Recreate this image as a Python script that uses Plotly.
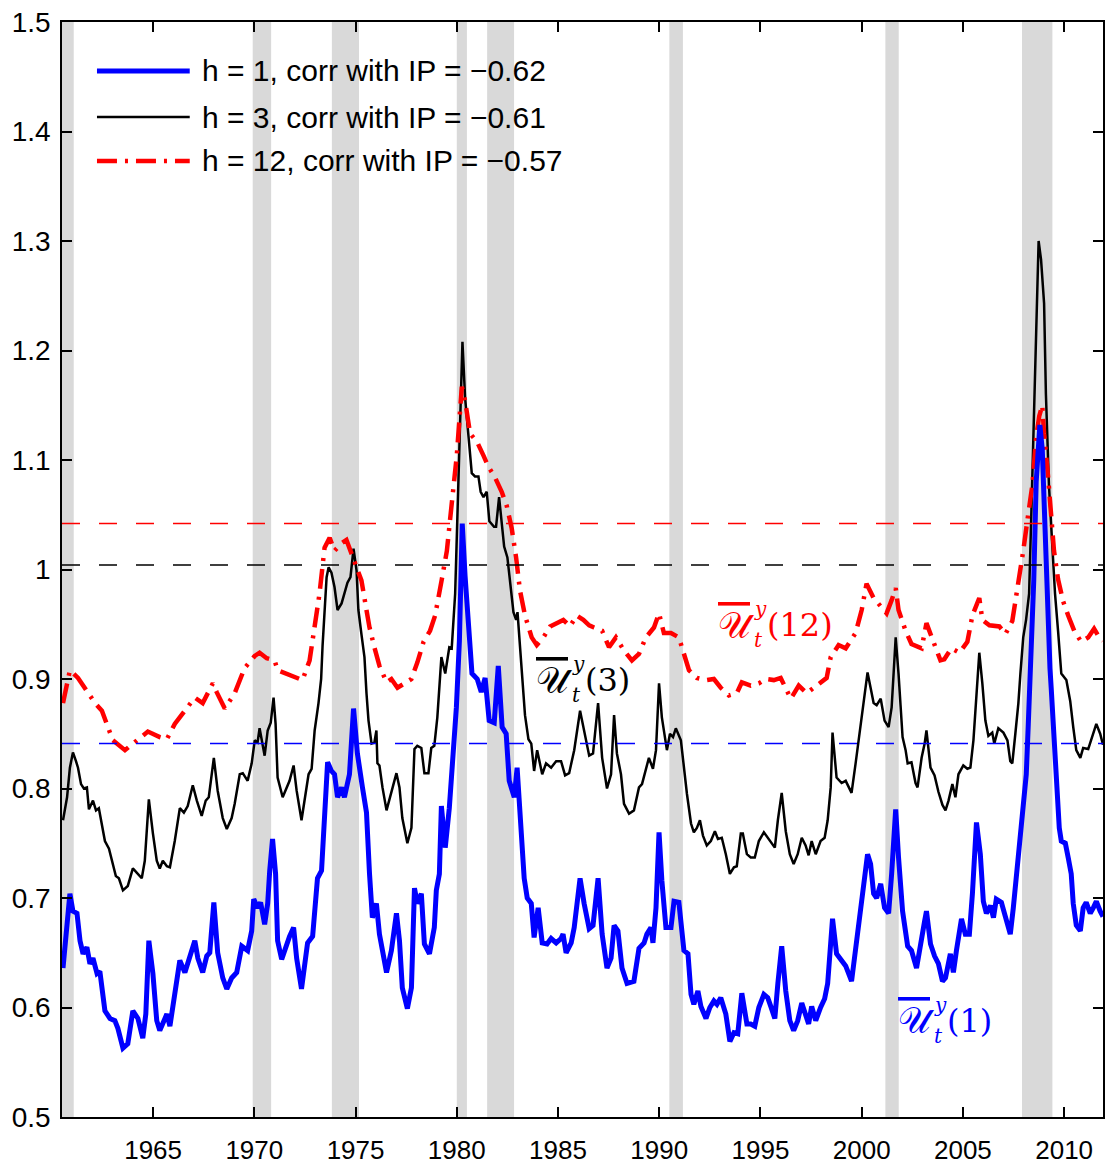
import plotly.graph_objects as go

# ---------------------------------------------------------------- data
# NBER recession periods (peak, trough) in decimal years
rec_start = [1960.25, 1969.92, 1973.83, 1980.00, 1981.50, 1990.50, 2001.17, 2007.92]
rec_end = [1961.08, 1970.83, 1975.17, 1980.50, 1982.83, 1991.17, 2001.83, 2009.42]

# h = 1 uncertainty index
t_h1 = [1960.55, 1960.89, 1961.04, 1961.24, 1961.39, 1961.54, 1961.73, 1961.88, 1962.03, 1962.23,
        1962.37, 1962.62, 1962.87, 1963.11, 1963.26, 1963.51, 1963.75, 1964.00, 1964.25, 1964.49,
        1964.64, 1964.79, 1964.99, 1965.18, 1965.33, 1965.48, 1965.68, 1965.83, 1966.07, 1966.32,
        1966.57, 1966.81, 1967.06, 1967.21, 1967.45, 1967.65, 1967.80, 1968.00, 1968.19, 1968.44,
        1968.64, 1968.88, 1969.13, 1969.38, 1969.67, 1969.87, 1969.97, 1970.16, 1970.31, 1970.51,
        1970.66, 1970.76, 1970.90, 1971.05, 1971.15, 1971.35, 1971.59, 1971.74, 1971.94, 1972.09,
        1972.33, 1972.48, 1972.63, 1972.88, 1973.12, 1973.32, 1973.47, 1973.62, 1973.81, 1973.96,
        1974.11, 1974.31, 1974.45, 1974.70, 1974.90, 1975.09, 1975.34, 1975.54, 1975.69, 1975.83,
        1976.03, 1976.18, 1976.33, 1976.53, 1976.77, 1977.02, 1977.17, 1977.31, 1977.56, 1977.76,
        1977.91, 1978.05, 1978.25, 1978.40, 1978.65, 1978.89, 1978.99, 1979.14, 1979.24, 1979.43,
        1979.63, 1979.78, 1979.98, 1980.13, 1980.27, 1980.41, 1980.55, 1980.75, 1981.01, 1981.21,
        1981.40, 1981.60, 1981.85, 1982.05, 1982.24, 1982.44, 1982.59, 1982.84, 1982.98, 1983.18,
        1983.33, 1983.48, 1983.68, 1983.82, 1984.02, 1984.22, 1984.46, 1984.66, 1984.91, 1985.15,
        1985.25, 1985.40, 1985.65, 1985.80, 1986.09, 1986.29, 1986.54, 1986.73, 1986.98, 1987.18,
        1987.42, 1987.62, 1987.77, 1987.96, 1988.16, 1988.41, 1988.75, 1989.00, 1989.25, 1989.39,
        1989.59, 1989.69, 1989.84, 1989.99, 1990.13, 1990.33, 1990.58, 1990.73, 1990.97, 1991.22,
        1991.42, 1991.57, 1991.71, 1991.91, 1992.06, 1992.31, 1992.50, 1992.70, 1992.85, 1993.04,
        1993.29, 1993.49, 1993.69, 1993.88, 1994.08, 1994.33, 1994.52, 1994.72, 1994.92, 1995.17,
        1995.36, 1995.51, 1995.71, 1995.86, 1996.05, 1996.25, 1996.45, 1996.64, 1996.84, 1997.04,
        1997.23, 1997.38, 1997.53, 1997.73, 1997.97, 1998.17, 1998.32, 1998.47, 1998.56, 1998.76,
        1999.01, 1999.21, 1999.50, 1999.70, 1999.95, 2000.14, 2000.29, 2000.44, 2000.59, 2000.74,
        2000.94, 2001.13, 2001.33, 2001.48, 2001.68, 2001.82, 2002.02, 2002.27, 2002.46, 2002.71,
        2002.96, 2003.11, 2003.20, 2003.40, 2003.60, 2003.79, 2003.99, 2004.14, 2004.38, 2004.53,
        2004.68, 2004.93, 2005.12, 2005.32, 2005.47, 2005.67, 2005.86, 2006.01, 2006.16, 2006.36,
        2006.51, 2006.65, 2006.90, 2007.10, 2007.34, 2007.49, 2007.64, 2007.84, 2007.99, 2008.13,
        2008.23, 2008.38, 2008.50, 2008.62, 2008.72, 2008.80, 2008.92, 2009.05, 2009.17, 2009.30,
        2009.37, 2009.51, 2009.61, 2009.76, 2009.86, 2010.06, 2010.20, 2010.35, 2010.45, 2010.60,
        2010.80, 2010.94, 2011.09, 2011.29, 2011.44, 2011.59, 2011.78, 2011.92]
u_h1 = [0.636, 0.704, 0.688, 0.686, 0.661, 0.649, 0.655, 0.640, 0.645, 0.631,
        0.633, 0.597, 0.590, 0.588, 0.581, 0.563, 0.567, 0.597, 0.590, 0.572,
        0.594, 0.661, 0.631, 0.588, 0.579, 0.585, 0.594, 0.583, 0.612, 0.643,
        0.632, 0.647, 0.661, 0.645, 0.632, 0.647, 0.650, 0.696, 0.650, 0.627,
        0.617, 0.627, 0.632, 0.656, 0.652, 0.670, 0.699, 0.691, 0.696, 0.676,
        0.695, 0.725, 0.754, 0.722, 0.661, 0.644, 0.659, 0.665, 0.673, 0.645,
        0.617, 0.636, 0.659, 0.665, 0.718, 0.725, 0.780, 0.824, 0.816, 0.813,
        0.792, 0.801, 0.792, 0.813, 0.873, 0.832, 0.801, 0.778, 0.722, 0.682,
        0.695, 0.667, 0.652, 0.632, 0.652, 0.686, 0.661, 0.618, 0.599, 0.618,
        0.709, 0.695, 0.704, 0.658, 0.649, 0.673, 0.707, 0.722, 0.784, 0.746,
        0.782, 0.823, 0.874, 0.935, 1.042, 0.994, 0.955, 0.905, 0.900, 0.888,
        0.901, 0.862, 0.860, 0.912, 0.856, 0.850, 0.807, 0.792, 0.819, 0.759,
        0.718, 0.700, 0.695, 0.664, 0.691, 0.659, 0.658, 0.663, 0.659, 0.663,
        0.667, 0.650, 0.659, 0.673, 0.718, 0.695, 0.672, 0.675, 0.718, 0.667,
        0.636, 0.645, 0.675, 0.670, 0.636, 0.622, 0.624, 0.654, 0.659, 0.667,
        0.673, 0.659, 0.691, 0.760, 0.716, 0.673, 0.673, 0.697, 0.696, 0.652,
        0.649, 0.612, 0.603, 0.615, 0.601, 0.590, 0.600, 0.606, 0.603, 0.609,
        0.594, 0.569, 0.577, 0.576, 0.613, 0.585, 0.585, 0.583, 0.600, 0.612,
        0.609, 0.601, 0.590, 0.622, 0.656, 0.615, 0.588, 0.579, 0.588, 0.604,
        0.594, 0.585, 0.601, 0.588, 0.600, 0.608, 0.622, 0.652, 0.681, 0.649,
        0.643, 0.638, 0.624, 0.652, 0.695, 0.716, 0.740, 0.731, 0.704, 0.700,
        0.713, 0.691, 0.686, 0.722, 0.781, 0.737, 0.688, 0.656, 0.652, 0.636,
        0.667, 0.679, 0.688, 0.658, 0.647, 0.640, 0.624, 0.627, 0.649, 0.632,
        0.652, 0.681, 0.667, 0.667, 0.704, 0.769, 0.740, 0.697, 0.686, 0.693,
        0.682, 0.699, 0.696, 0.682, 0.667, 0.691, 0.718, 0.752, 0.789, 0.813,
        0.859, 0.920, 0.990, 1.080, 1.120, 1.132, 1.110, 1.040, 0.960, 0.910,
        0.889, 0.844, 0.798, 0.764, 0.752, 0.750, 0.737, 0.722, 0.695, 0.675,
        0.670, 0.691, 0.696, 0.686, 0.691, 0.697, 0.688, 0.683]

# h = 3 uncertainty index
t_h3 = [1960.55, 1960.75, 1960.89, 1961.04, 1961.19, 1961.29, 1961.44, 1961.58, 1961.73, 1961.83,
        1962.03, 1962.18, 1962.32, 1962.62, 1962.82, 1963.01, 1963.16, 1963.31, 1963.51, 1963.75,
        1964.00, 1964.20, 1964.44, 1964.59, 1964.79, 1964.99, 1965.18, 1965.33, 1965.48, 1965.68,
        1965.83, 1966.07, 1966.32, 1966.52, 1966.71, 1966.96, 1967.16, 1967.40, 1967.60, 1967.75,
        1968.00, 1968.19, 1968.44, 1968.64, 1968.88, 1969.03, 1969.28, 1969.43, 1969.67, 1969.87,
        1970.02, 1970.16, 1970.26, 1970.51, 1970.66, 1970.81, 1970.95, 1971.05, 1971.15, 1971.40,
        1971.59, 1971.74, 1971.94, 1972.09, 1972.33, 1972.53, 1972.68, 1972.83, 1972.98, 1973.17,
        1973.30, 1973.37, 1973.47, 1973.57, 1973.67, 1973.81, 1973.96, 1974.11, 1974.31, 1974.45,
        1974.60, 1974.75, 1974.90, 1975.05, 1975.14, 1975.29, 1975.44, 1975.54, 1975.64, 1975.79,
        1975.93, 1976.03, 1976.08, 1976.18, 1976.33, 1976.53, 1976.77, 1977.02, 1977.17, 1977.31,
        1977.56, 1977.76, 1977.91, 1978.05, 1978.25, 1978.40, 1978.60, 1978.74, 1978.89, 1979.04,
        1979.24, 1979.43, 1979.63, 1979.75, 1979.92, 1980.08, 1980.28, 1980.41, 1980.58, 1980.74,
        1980.90, 1981.07, 1981.18, 1981.32, 1981.48, 1981.61, 1981.84, 1981.94, 1982.09, 1982.22,
        1982.34, 1982.50, 1982.63, 1982.80, 1982.93, 1983.00, 1983.09, 1983.20, 1983.37, 1983.54,
        1983.68, 1983.82, 1983.97, 1984.22, 1984.41, 1984.66, 1984.91, 1985.15, 1985.35, 1985.55,
        1985.80, 1986.09, 1986.29, 1986.54, 1986.73, 1986.98, 1987.18, 1987.42, 1987.62, 1987.77,
        1987.91, 1988.11, 1988.26, 1988.51, 1988.75, 1989.00, 1989.15, 1989.34, 1989.49, 1989.69,
        1989.84, 1989.99, 1990.13, 1990.38, 1990.53, 1990.68, 1990.82, 1991.07, 1991.22, 1991.37,
        1991.57, 1991.71, 1991.86, 1992.01, 1992.16, 1992.35, 1992.55, 1992.75, 1992.90, 1993.09,
        1993.29, 1993.49, 1993.69, 1993.83, 1994.03, 1994.13, 1994.33, 1994.52, 1994.72, 1994.92,
        1995.17, 1995.36, 1995.51, 1995.71, 1995.86, 1996.05, 1996.25, 1996.45, 1996.64, 1996.84,
        1997.04, 1997.23, 1997.38, 1997.53, 1997.73, 1997.97, 1998.17, 1998.32, 1998.47, 1998.56,
        1998.76, 1999.01, 1999.21, 1999.50, 1999.70, 1999.95, 2000.09, 2000.29, 2000.44, 2000.59,
        2000.74, 2000.94, 2001.13, 2001.33, 2001.48, 2001.68, 2001.82, 2002.02, 2002.17, 2002.27,
        2002.46, 2002.66, 2002.76, 2002.96, 2003.11, 2003.20, 2003.40, 2003.60, 2003.79, 2003.99,
        2004.14, 2004.29, 2004.48, 2004.63, 2004.78, 2005.02, 2005.22, 2005.37, 2005.52, 2005.67,
        2005.81, 2005.96, 2006.11, 2006.26, 2006.45, 2006.55, 2006.75, 2007.00, 2007.20, 2007.34,
        2007.44, 2007.59, 2007.74, 2007.84, 2007.98, 2008.12, 2008.27, 2008.37, 2008.47, 2008.62,
        2008.74, 2008.86, 2009.01, 2009.10, 2009.25, 2009.40, 2009.55, 2009.70, 2009.86, 2010.11,
        2010.30, 2010.45, 2010.60, 2010.80, 2010.94, 2011.19, 2011.44, 2011.59, 2011.78, 2011.92]
u_h3 = [0.771, 0.792, 0.819, 0.833, 0.825, 0.819, 0.804, 0.800, 0.801, 0.781,
        0.789, 0.780, 0.782, 0.752, 0.745, 0.731, 0.720, 0.718, 0.707, 0.711,
        0.727, 0.723, 0.718, 0.734, 0.790, 0.759, 0.734, 0.727, 0.734, 0.729,
        0.728, 0.752, 0.782, 0.778, 0.784, 0.803, 0.789, 0.775, 0.789, 0.792,
        0.828, 0.798, 0.773, 0.763, 0.773, 0.786, 0.813, 0.814, 0.807, 0.823,
        0.844, 0.842, 0.855, 0.830, 0.853, 0.860, 0.883, 0.859, 0.810, 0.792,
        0.801, 0.807, 0.821, 0.798, 0.771, 0.795, 0.813, 0.818, 0.853, 0.878,
        0.900, 0.930, 0.960, 0.993, 1.002, 0.997, 0.984, 0.963, 0.969, 0.978,
        0.988, 0.993, 1.019, 0.999, 0.963, 0.941, 0.920, 0.887, 0.862, 0.841,
        0.842, 0.853, 0.823, 0.821, 0.801, 0.780, 0.798, 0.814, 0.801, 0.773,
        0.750, 0.764, 0.836, 0.839, 0.837, 0.814, 0.814, 0.837, 0.839, 0.865,
        0.920, 0.905, 0.929, 0.928, 0.978, 1.077, 1.208, 1.157, 1.124, 1.088,
        1.085, 1.085, 1.071, 1.066, 1.071, 1.044, 1.039, 1.039, 1.066, 1.041,
        1.021, 1.011, 0.991, 0.961, 0.954, 0.961, 0.938, 0.911, 0.867, 0.845,
        0.841, 0.816, 0.835, 0.813, 0.823, 0.819, 0.825, 0.825, 0.812, 0.814,
        0.835, 0.871, 0.852, 0.830, 0.832, 0.878, 0.828, 0.800, 0.813, 0.867,
        0.832, 0.813, 0.786, 0.777, 0.780, 0.801, 0.804, 0.819, 0.828, 0.818,
        0.835, 0.896, 0.865, 0.835, 0.850, 0.847, 0.855, 0.844, 0.816, 0.795,
        0.768, 0.760, 0.764, 0.771, 0.757, 0.748, 0.752, 0.761, 0.754, 0.755,
        0.740, 0.722, 0.728, 0.729, 0.759, 0.759, 0.740, 0.737, 0.737, 0.752,
        0.760, 0.755, 0.752, 0.746, 0.771, 0.796, 0.761, 0.740, 0.731, 0.740,
        0.755, 0.748, 0.739, 0.752, 0.740, 0.752, 0.755, 0.771, 0.801, 0.851,
        0.810, 0.805, 0.807, 0.796, 0.823, 0.859, 0.880, 0.906, 0.892, 0.878,
        0.876, 0.882, 0.862, 0.856, 0.874, 0.938, 0.905, 0.847, 0.835, 0.823,
        0.824, 0.805, 0.801, 0.828, 0.841, 0.853, 0.819, 0.812, 0.797, 0.785,
        0.780, 0.789, 0.804, 0.792, 0.813, 0.821, 0.818, 0.819, 0.844, 0.889,
        0.924, 0.896, 0.862, 0.848, 0.851, 0.841, 0.855, 0.851, 0.844, 0.825,
        0.823, 0.850, 0.878, 0.905, 0.938, 0.954, 0.978, 1.044, 1.111, 1.210,
        1.300, 1.283, 1.243, 1.160, 1.077, 1.027, 0.978, 0.944, 0.905, 0.899,
        0.880, 0.856, 0.835, 0.828, 0.837, 0.836, 0.850, 0.859, 0.850, 0.840]

# h = 12 uncertainty index
t_h12 = [1960.55, 1960.89, 1961.29, 1961.78, 1962.13, 1962.47, 1962.77, 1963.01, 1963.61, 1964.35,
         1964.74, 1965.33, 1965.68, 1966.07, 1966.66, 1967.06, 1967.45, 1967.95, 1968.14, 1968.54,
         1969.03, 1969.38, 1969.52, 1970.02, 1970.26, 1970.61, 1971.00, 1971.15, 1971.59, 1972.09,
         1972.38, 1972.73, 1972.98, 1973.22, 1973.47, 1973.72, 1973.96, 1974.31, 1974.55, 1974.80,
         1975.05, 1975.29, 1975.54, 1975.69, 1975.93, 1976.18, 1976.53, 1976.77, 1977.07, 1977.41,
         1977.76, 1978.05, 1978.36, 1978.68, 1978.93, 1979.26, 1979.51, 1979.75, 1980.00, 1980.25,
         1980.41, 1980.66, 1980.99, 1981.32, 1981.56, 1981.89, 1982.22, 1982.47, 1982.71, 1982.93,
         1983.12, 1983.37, 1983.70, 1983.95, 1984.28, 1984.61, 1984.93, 1985.26, 1985.59, 1985.92,
         1986.25, 1986.54, 1986.78, 1987.18, 1987.52, 1987.86, 1988.26, 1988.65, 1989.00, 1989.34,
         1989.74, 1989.99, 1990.23, 1990.58, 1990.97, 1991.22, 1991.47, 1991.86, 1992.35, 1992.70,
         1993.04, 1993.44, 1993.83, 1994.08, 1994.52, 1994.92, 1995.27, 1995.66, 1996.00, 1996.50,
         1996.89, 1997.28, 1997.78, 1998.27, 1998.47, 1998.86, 1999.21, 1999.70, 2000.00, 2000.24,
         2000.59, 2000.94, 2001.23, 2001.48, 2001.68, 2001.82, 2002.17, 2002.46, 2002.96, 2003.20,
         2003.55, 2003.89, 2004.08, 2004.43, 2004.83, 2005.22, 2005.47, 2005.81, 2005.96, 2006.31,
         2006.80, 2007.10, 2007.44, 2007.69, 2007.98, 2008.23, 2008.43, 2008.62, 2008.77, 2008.92,
         2009.01, 2009.21, 2009.35, 2009.50, 2009.70, 2009.95, 2010.20, 2010.50, 2010.84, 2011.19,
         2011.48, 2011.73, 2011.92]
u_h12 = [0.878, 0.908, 0.901, 0.887, 0.878, 0.871, 0.856, 0.844, 0.835, 0.847,
         0.852, 0.847, 0.845, 0.859, 0.874, 0.883, 0.878, 0.896, 0.888, 0.873,
         0.887, 0.905, 0.910, 0.921, 0.924, 0.919, 0.917, 0.908, 0.905, 0.901,
         0.899, 0.917, 0.946, 0.978, 1.020, 1.029, 1.017, 1.024, 1.027, 1.015,
         1.002, 0.990, 0.963, 0.947, 0.929, 0.912, 0.897, 0.900, 0.892, 0.896,
         0.900, 0.915, 0.934, 0.944, 0.958, 0.991, 1.017, 1.060, 1.104, 1.167,
         1.154, 1.124, 1.117, 1.104, 1.094, 1.084, 1.071, 1.058, 1.038, 1.011,
         0.981, 0.958, 0.938, 0.931, 0.938, 0.948, 0.951, 0.954, 0.948, 0.958,
         0.954, 0.949, 0.947, 0.944, 0.929, 0.938, 0.926, 0.917, 0.923, 0.938,
         0.947, 0.960, 0.942, 0.942, 0.938, 0.923, 0.908, 0.901, 0.899, 0.900,
         0.892, 0.885, 0.887, 0.897, 0.894, 0.896, 0.900, 0.899, 0.901, 0.882,
         0.894, 0.887, 0.894, 0.901, 0.920, 0.931, 0.928, 0.942, 0.963, 0.987,
         0.974, 0.967, 0.960, 0.972, 0.983, 0.963, 0.944, 0.932, 0.928, 0.951,
         0.935, 0.917, 0.918, 0.928, 0.924, 0.934, 0.958, 0.974, 0.954, 0.949,
         0.948, 0.941, 0.953, 0.981, 1.017, 1.051, 1.077, 1.121, 1.140, 1.150,
         1.124, 1.084, 1.051, 1.017, 0.991, 0.971, 0.958, 0.944, 0.934, 0.938,
         0.946, 0.938, 0.935]

# 90th-percentile thresholds of each index
thr_h1 = 0.841
thr_h3 = 1.004
thr_h12 = 1.042

legend_labels = ["h = 1, corr with IP = \u22120.62",
                 "h = 3, corr with IP = \u22120.61",
                 "h = 12, corr with IP = \u22120.57"]

x_ticks = [1965, 1970, 1975, 1980, 1985, 1990, 1995, 2000, 2005, 2010]
y_ticks = [0.5, 0.6, 0.7, 0.8, 0.9, 1.0, 1.1, 1.2, 1.3, 1.4, 1.5]
y_ticktext = ["0.5", "0.6", "0.7", "0.8", "0.9", "1", "1.1", "1.2", "1.3", "1.4", "1.5"]

x_range = [1960.5, 2011.92]
y_range = [0.5, 1.5]

# ---------------------------------------------------------------- styles
BLUE = "#0000ff"
RED = "#ff0000"
BLACK = "#000000"
SANS = "Liberation Sans, Arial, sans-serif"
SERIF = "DejaVu Serif, Liberation Serif, serif"
RED_DASH = "20px,8px,3px,8px"

fig = go.Figure()

# recession shading
shapes = []
for s, e in zip(rec_start, rec_end):
    shapes.append(dict(type="rect", xref="x", yref="paper",
                       x0=max(s, x_range[0]), x1=e, y0=0, y1=1,
                       fillcolor="#d9d9d9", line=dict(width=0), layer="below"))

# threshold lines
for val, col in [(thr_h12, RED), (thr_h3, BLACK), (thr_h1, BLUE)]:
    shapes.append(dict(type="line", xref="paper", yref="y", x0=0, x1=1, y0=val, y1=val,
                       line=dict(color=col, width=1.5, dash="18px,19px"), layer="above"))

fig.add_trace(go.Scatter(x=t_h3, y=u_h3, mode="lines",
                         line=dict(color=BLACK, width=2.5), showlegend=False))
fig.add_trace(go.Scatter(x=t_h12, y=u_h12, mode="lines",
                         line=dict(color=RED, width=4.5, dash=RED_DASH), showlegend=False))
fig.add_trace(go.Scatter(x=t_h1, y=u_h1, mode="lines",
                         line=dict(color=BLUE, width=5), showlegend=False))

# legend drawn in the upper-left corner of the axes
legend_rows = [0.9553, 0.9132, 0.8731]
legend_styles = [dict(color=BLUE, width=5), dict(color=BLACK, width=2.5),
                 dict(color=RED, width=4.5, dash=RED_DASH)]
annotations = []
for row, sty, lab in zip(legend_rows, legend_styles, legend_labels):
    shapes.append(dict(type="line", xref="paper", yref="paper", x0=0.0336, x1=0.1227,
                       y0=row, y1=row, line=sty, layer="above"))
    annotations.append(dict(xref="paper", yref="paper", x=0.1323, y=row, text=lab,
                            showarrow=False, xanchor="left", yanchor="middle",
                            font=dict(family=SANS, size=30, color=BLACK)))


def series_label(x, y, num, color):
    """Math-style label: overlined script U with stacked y / t indices, then (h)."""
    base = dict(xref="x", yref="y", x=x, y=y, showarrow=False, xanchor="left",
                yanchor="middle", borderpad=0)
    annotations.append(dict(base, text="<span style='text-decoration:overline'>\U0001D4B0</span>",
                            font=dict(family=SERIF, size=36, color=color)))
    annotations.append(dict(base, text="<i>y</i>", xshift=36, yshift=16,
                            font=dict(family=SERIF, size=20, color=color)))
    annotations.append(dict(base, text="<i>t</i>", xshift=36, yshift=-15,
                            font=dict(family=SERIF, size=20, color=color)))
    annotations.append(dict(base, text="(" + num + ")", xshift=49,
                            font=dict(family=SERIF, size=32, color=color)))


series_label(1992.85, 0.949, "12", RED)
series_label(1983.85, 0.899, "3", BLACK)
series_label(2001.75, 0.588, "1", BLUE)

axis_common = dict(showgrid=False, zeroline=False, showline=True, linecolor=BLACK,
                   linewidth=1.5, mirror="allticks", ticks="inside", ticklen=10,
                   tickwidth=1.5, tickcolor=BLACK)

fig.update_layout(
    width=1107, height=1169,
    margin=dict(l=62, r=2, t=22, b=52),
    paper_bgcolor="white", plot_bgcolor="white",
    shapes=shapes, annotations=annotations,
    xaxis=dict(axis_common, range=x_range, tickvals=x_ticks, ticklabelstandoff=9,
               tickfont=dict(family=SANS, size=26, color=BLACK)),
    yaxis=dict(axis_common, range=y_range, tickvals=y_ticks, ticktext=y_ticktext,
               ticklabelstandoff=4, tickfont=dict(family=SANS, size=28, color=BLACK)),
)

fig.write_html("out.html")
